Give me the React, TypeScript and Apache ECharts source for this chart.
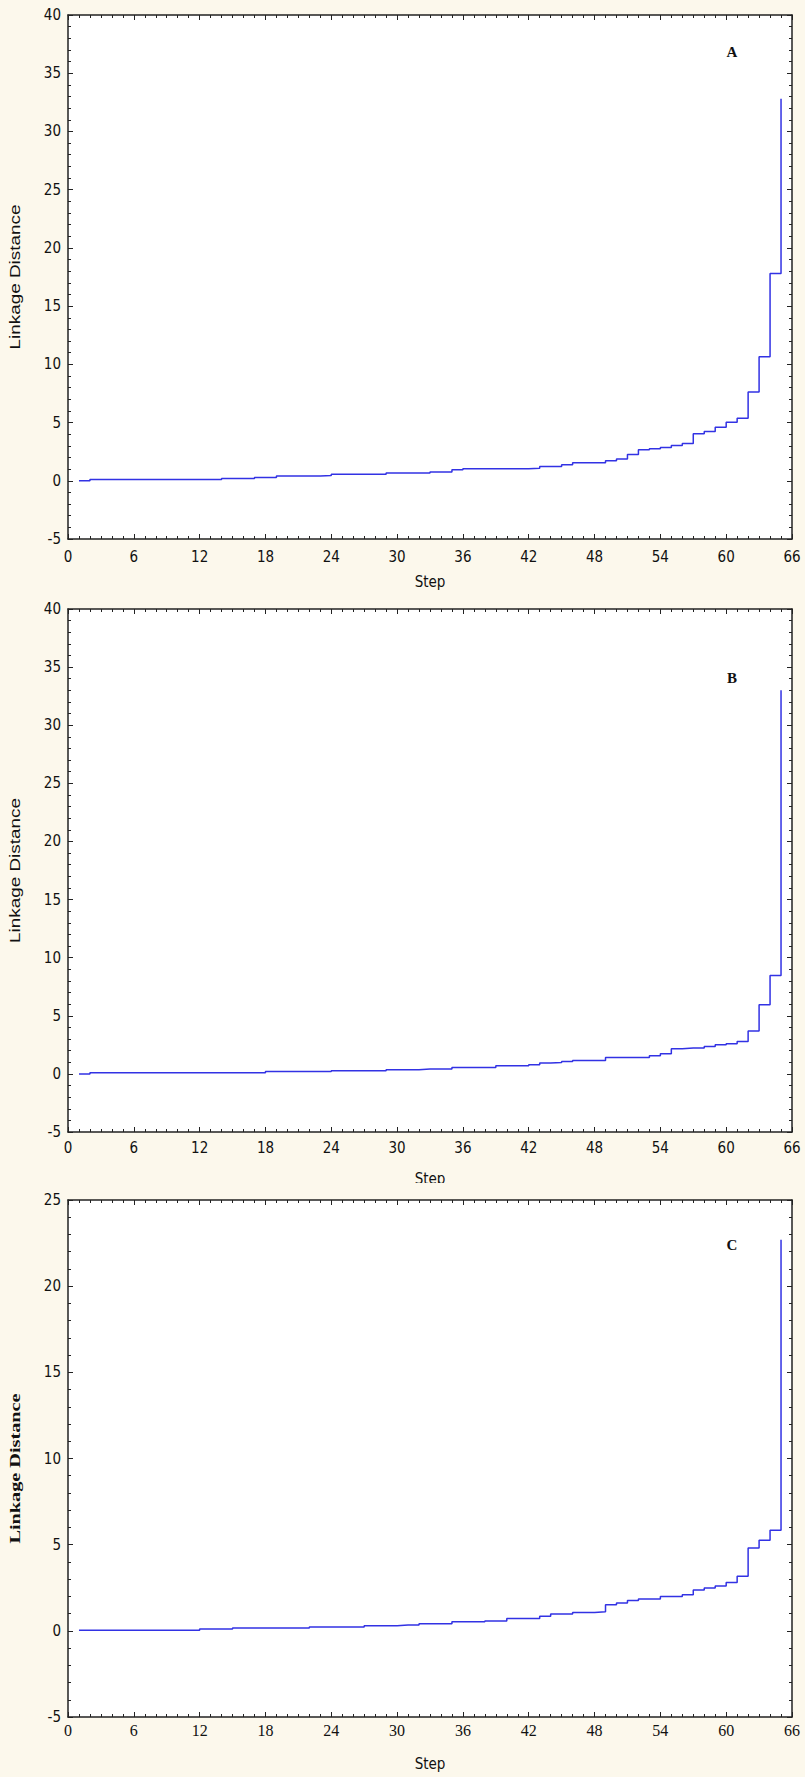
import React, { useEffect, useRef } from "react";
import * as echarts from "echarts";

// ---- data ----
const STEPS = [
  1, 2, 3, 4, 5, 6, 7, 8, 9, 10, 11, 12, 13, 14, 15, 16, 17, 18, 19, 20, 21, 22,
  23, 24, 25, 26, 27, 28, 29, 30, 31, 32, 33, 34, 35, 36, 37, 38, 39, 40, 41, 42,
  43, 44, 45, 46, 47, 48, 49, 50, 51, 52, 53, 54, 55, 56, 57, 58, 59, 60, 61, 62,
  63, 64, 65,
];

const LINKAGE_A = [
  0, 0.11, 0.11, 0.11, 0.11, 0.11, 0.11, 0.11, 0.11, 0.11, 0.11, 0.11, 0.11,
  0.2, 0.2, 0.2, 0.28, 0.28, 0.4, 0.4, 0.4, 0.4, 0.45, 0.57, 0.57, 0.57, 0.57,
  0.57, 0.66, 0.66, 0.66, 0.66, 0.76, 0.76, 0.94, 1.03, 1.03, 1.03, 1.03, 1.03,
  1.03, 1.08, 1.23, 1.23, 1.37, 1.54, 1.54, 1.54, 1.71, 1.86, 2.25, 2.66, 2.74,
  2.86, 3.03, 3.2, 4.03, 4.23, 4.6, 5.03, 5.37, 7.63, 10.65, 17.8, 32.8,
];

const LINKAGE_B = [
  0, 0.1, 0.1, 0.1, 0.1, 0.1, 0.1, 0.1, 0.1, 0.1, 0.1, 0.1, 0.1, 0.1, 0.1, 0.1,
  0.1, 0.2, 0.2, 0.2, 0.2, 0.2, 0.2, 0.28, 0.28, 0.28, 0.28, 0.28, 0.36, 0.36,
  0.36, 0.42, 0.42, 0.42, 0.55, 0.55, 0.55, 0.55, 0.7, 0.7, 0.7, 0.78, 0.93,
  0.98, 1.07, 1.15, 1.15, 1.15, 1.41, 1.41, 1.41, 1.41, 1.56, 1.73, 2.16, 2.22,
  2.22, 2.36, 2.5, 2.59, 2.79, 3.7, 5.94, 8.46, 33.0,
];

const LINKAGE_C = [
  0.03, 0.03, 0.03, 0.03, 0.03, 0.03, 0.03, 0.03, 0.03, 0.03, 0.03, 0.1, 0.1,
  0.1, 0.16, 0.16, 0.16, 0.16, 0.16, 0.16, 0.16, 0.22, 0.22, 0.22, 0.22, 0.22,
  0.3, 0.3, 0.3, 0.34, 0.34, 0.41, 0.41, 0.41, 0.52, 0.52, 0.52, 0.57, 0.57,
  0.71, 0.71, 0.71, 0.84, 0.97, 0.97, 1.07, 1.07, 1.11, 1.51, 1.62, 1.76, 1.85,
  1.85, 1.99, 1.99, 2.1, 2.37, 2.48, 2.6, 2.8, 3.17, 4.8, 5.25, 5.84, 22.7,
];

const PANEL_LABELS = ["A", "B", "C"];
const Y_RANGES = [
  [-5, 40],
  [-5, 40],
  [-5, 25],
];
const X_NAME = "Step";
const Y_NAME = "Linkage Distance";

// ---- layout / style ----
const W = 805;
const H = 1777;
const BG = "#FCF8EC";
const AXIS_COLOR = "#222";
const LINE_COLOR = "#3232E4";
const SANS =
  "'Liberation Sans Narrow', 'DejaVu Sans Condensed', 'Liberation Sans', Arial, sans-serif";
const SERIF = "'Liberation Serif', 'Times New Roman', serif";
const GRIDS = [
  { left: 68, top: 15, width: 724, height: 524 },
  { left: 68, top: 609, width: 724, height: 523 },
  { left: 68, top: 1200, width: 724, height: 517 },
];

export default function App() {
  const ref = useRef<HTMLDivElement>(null);

  useEffect(() => {
    document.body.style.margin = "0";
    if (!ref.current) return;
    const chart = echarts.init(ref.current, undefined, { renderer: "svg" });

    const seriesData = [LINKAGE_A, LINKAGE_B, LINKAGE_C];
    const grid: any[] = [];
    const xAxis: any[] = [];
    const yAxis: any[] = [];
    const series: any[] = [];

    const tickStyle = { color: AXIS_COLOR, width: 1 };
    const axisLineStyle = { color: AXIS_COLOR, width: 1.5 };

    GRIDS.forEach((g, i) => {
      grid.push({
        ...g,
        show: true,
        backgroundColor: "#ffffff",
        borderWidth: 0,
        containLabel: false,
      });
      const isC = i === 2;
      const xLabelMargin = [10, 8, 5][i];
      const xNameGap = [35, 39, 39][i];
      // bottom x axis
      xAxis.push({
        gridIndex: i,
        type: "value",
        position: "bottom",
        min: 0,
        max: 66,
        interval: 6,
        axisLine: { show: true, onZero: false, lineStyle: axisLineStyle },
        axisTick: { show: true, inside: true, length: 5, lineStyle: tickStyle },
        minorTick: { show: true, splitNumber: 6, length: 3, lineStyle: tickStyle },
        splitLine: { show: false },
        minorSplitLine: { show: false },
        axisLabel: {
          show: true,
          margin: xLabelMargin,
          color: "#111",
          fontSize: isC ? 16 : 15,
          fontFamily: isC ? SERIF : SANS,
          showMinLabel: true,
          showMaxLabel: true,
        },
        name: X_NAME,
        nameLocation: "middle",
        nameGap: xNameGap,
        nameTextStyle: {
          color: "#111",
          fontSize: 15,
          fontFamily: SANS,
        },
      });
      // top mirrored x axis
      xAxis.push({
        gridIndex: i,
        type: "value",
        position: "top",
        min: 0,
        max: 66,
        interval: 6,
        axisLine: { show: true, onZero: false, lineStyle: axisLineStyle },
        axisTick: { show: true, inside: true, length: 5, lineStyle: tickStyle },
        minorTick: { show: true, splitNumber: 6, length: 3, lineStyle: tickStyle },
        splitLine: { show: false },
        minorSplitLine: { show: false },
        axisLabel: { show: false },
      });
      const [ymin, ymax] = Y_RANGES[i];
      // left y axis
      yAxis.push({
        gridIndex: i,
        type: "value",
        position: "left",
        min: ymin,
        max: ymax,
        interval: 5,
        axisLine: { show: true, onZero: false, lineStyle: axisLineStyle },
        axisTick: { show: true, inside: true, length: 5, lineStyle: tickStyle },
        minorTick: { show: true, splitNumber: 5, length: 3, lineStyle: tickStyle },
        splitLine: { show: false },
        minorSplitLine: { show: false },
        axisLabel: {
          show: true,
          margin: 7,
          color: "#111",
          fontSize: 15,
          fontFamily: SANS,
          showMinLabel: true,
          showMaxLabel: true,
        },
      });
      // right mirrored y axis
      yAxis.push({
        gridIndex: i,
        type: "value",
        position: "right",
        min: ymin,
        max: ymax,
        interval: 5,
        axisLine: { show: true, onZero: false, lineStyle: axisLineStyle },
        axisTick: { show: true, inside: true, length: 5, lineStyle: tickStyle },
        minorTick: { show: true, splitNumber: 5, length: 3, lineStyle: tickStyle },
        splitLine: { show: false },
        minorSplitLine: { show: false },
        axisLabel: { show: false },
      });
      series.push({
        type: "line",
        xAxisIndex: i * 2,
        yAxisIndex: i * 2,
        step: "end",
        showSymbol: false,
        symbol: "none",
        silent: true,
        lineStyle: { color: LINE_COLOR, width: 1.5 },
        data: STEPS.map((s, k) => [s, seriesData[i][k]]),
      });
    });

    const graphic: any[] = [];
    GRIDS.forEach((g, i) => {
      const isC = i === 2;
      graphic.push({
        type: "text",
        x: 15,
        y: g.top + g.height / 2 + (isC ? 10 : 0),
        rotation: Math.PI / 2,
        scaleX: 1.35,
        z: 10,
        style: {
          text: Y_NAME,
          font: isC
            ? "bold 15px 'Liberation Serif'"
            : "14px 'Liberation Sans'",
          fill: "#111",
          align: "center",
          verticalAlign: "middle",
        },
      });
      graphic.push({
        type: "text",
        x: 732,
        y: g.top + [37, 69, 45][i],
        z: 10,
        style: {
          text: PANEL_LABELS[i],
          font: "bold 15px 'Liberation Serif'",
          fill: "#111",
          align: "center",
          verticalAlign: "middle",
        },
      });
    });
    // the reference's second "Step" title is clipped by the third panel
    graphic.push({
      type: "rect",
      z: 100,
      shape: { x: 380, y: 1183, width: 100, height: 13 },
      style: { fill: BG },
    });

    chart.setOption({
      animation: false,
      backgroundColor: BG,
      grid,
      xAxis,
      yAxis,
      series,
      graphic,
    });

    return () => chart.dispose();
  }, []);

  return <div ref={ref} style={{ width: W, height: H, background: BG }} />;
}
